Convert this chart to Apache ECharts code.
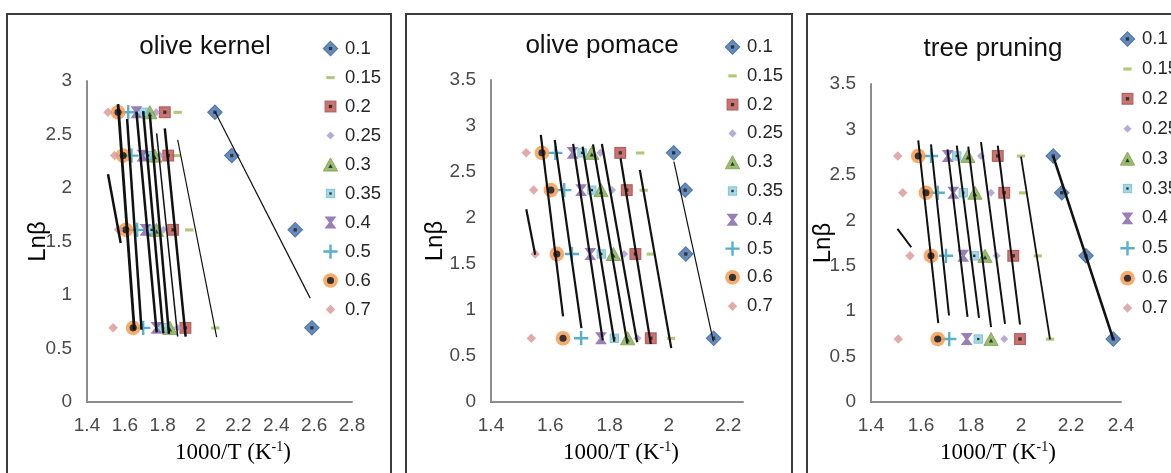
<!DOCTYPE html>
<html>
<head>
<meta charset="utf-8">
<script src="https://cdn.jsdelivr.net/npm/echarts@6/dist/echarts.min.js"></script>
<style>
  html, body { margin: 0; padding: 0; background: #fff; overflow: hidden; }
  body { width: 1171px; height: 473px; position: relative; }
  .panel { position: absolute; top: 13px; height: 480px; border: 2px solid #3c3c3c; box-sizing: border-box; }
  #chart { position: absolute; left: 0; top: 0; width: 1171px; height: 473px; }
</style>
</head>
<body>
<div class="panel" style="left:6px;width:386px"></div>
<div class="panel" style="left:405px;width:388px"></div>
<div class="panel" style="left:806px;width:380px"></div>
<div id="chart"></div>
<script>
// ln(beta) for heating rates 2, 5, 10, 15 K/min
const lnBeta = [2.708, 2.303, 1.609, 0.693]
const conversions = ['0.1', '0.15', '0.2', '0.25', '0.3', '0.35', '0.4', '0.5', '0.6', '0.7']

// 1000/T per conversion, one value per heating rate (same order as lnBeta)
const kernelX = [
  [2.076, 2.165, 2.500, 2.588],
  [1.879, 1.873, 1.940, 2.078],
  [1.811, 1.829, 1.855, 1.920],
  [1.765, 1.785, 1.803, 1.878],
  [1.732, 1.758, 1.767, 1.838],
  [1.697, 1.723, 1.741, 1.802],
  [1.661, 1.693, 1.709, 1.767],
  [1.618, 1.635, 1.665, 1.697],
  [1.564, 1.591, 1.605, 1.644],
  [1.511, 1.546, 1.567, 1.538]
]
const pomaceX = [
  [2.016, 2.055, 2.057, 2.151],
  [1.903, 1.915, 1.939, 2.007],
  [1.836, 1.858, 1.887, 1.939],
  [1.769, 1.808, 1.849, 1.894],
  [1.740, 1.771, 1.813, 1.861],
  [1.707, 1.740, 1.772, 1.816],
  [1.675, 1.704, 1.735, 1.771],
  [1.617, 1.647, 1.673, 1.704],
  [1.572, 1.602, 1.622, 1.643],
  [1.519, 1.544, 1.549, 1.536]
]
const pruningX = [
  [2.129, 2.163, 2.260, 2.369],
  [2.000, 2.009, 2.067, 2.116],
  [1.907, 1.933, 1.969, 1.996],
  [1.840, 1.880, 1.903, 1.933],
  [1.787, 1.816, 1.856, 1.880],
  [1.743, 1.769, 1.813, 1.829],
  [1.707, 1.729, 1.769, 1.783],
  [1.640, 1.667, 1.700, 1.713],
  [1.589, 1.620, 1.640, 1.667],
  [1.507, 1.527, 1.556, 1.509]
]

// trend lines: [x1, y1, x2, y2]
const kernelTrend = [
  [2.076, 2.714, 2.579, 0.971],
  [1.879, 2.451, 2.085, 0.607],
  [1.811, 2.558, 1.921, 0.612],
  [1.768, 2.511, 1.879, 0.612],
  [1.732, 2.682, 1.833, 0.637],
  [1.697, 2.714, 1.803, 0.641],
  [1.661, 2.714, 1.768, 0.650],
  [1.612, 2.645, 1.688, 0.675],
  [1.564, 2.783, 1.650, 0.675],
  [1.511, 2.129, 1.578, 1.486]
]
const pomaceTrend = [
  [2.017, 2.613, 2.150, 0.660],
  [1.902, 2.523, 2.008, 0.586],
  [1.837, 2.649, 1.939, 0.630],
  [1.774, 2.805, 1.893, 0.650],
  [1.744, 2.800, 1.860, 0.635],
  [1.709, 2.776, 1.816, 0.655],
  [1.677, 2.805, 1.777, 0.670],
  [1.615, 2.848, 1.705, 0.803],
  [1.568, 2.903, 1.643, 0.930],
  [1.519, 2.096, 1.549, 1.600]
]
const pruningTrend = [
  [2.129, 2.703, 2.369, 0.689],
  [2.000, 2.700, 2.116, 0.689],
  [1.907, 2.821, 1.996, 0.853],
  [1.840, 2.860, 1.936, 0.861],
  [1.789, 2.810, 1.880, 0.824],
  [1.743, 2.821, 1.832, 0.927],
  [1.706, 2.780, 1.786, 0.938],
  [1.640, 2.836, 1.712, 0.952],
  [1.589, 2.880, 1.669, 0.868],
  [1.506, 1.905, 1.561, 1.703]
]

const kernelXRange = [1.4, 2.8]
const pomaceXRange = [1.4, 2.25]
const pruningXRange = [1.4, 2.4]
const kernelYRange = [0, 3]
const pomaceYRange = [0, 3.5]
const pruningYRange = [0, 3.5]

// excel-ish markers, drawn as small svg images
const svgIcon = body => 'image://data:image/svg+xml;charset=utf-8,' + encodeURIComponent(
  '<svg xmlns="http://www.w3.org/2000/svg" width="16" height="16" viewBox="0 0 16 16">' + body + '</svg>')
const dot = '<rect x="6.6" y="6.6" width="2.8" height="2.8" fill="#000"/>'
const markerIcons = [
  svgIcon('<path d="M8 2L14 8L8 14L2 8Z" fill="#3D71B3" stroke="#2B5790" stroke-width="1"/>' + dot),
  svgIcon('<rect x="4.5" y="6.8" width="7" height="2.6" fill="#9BBB59"/>'),
  svgIcon('<rect x="3.5" y="3.5" width="9" height="9" fill="#C0504D" stroke="#9A3B38" stroke-width="1"/>' + dot),
  svgIcon('<path d="M8 4.6L11.4 8L8 11.4L4.6 8Z" fill="#A897CE"/>'),
  svgIcon('<path d="M8 2.5L14 13.5L2 13.5Z" fill="#7FAE46" stroke="#6A8F3A" stroke-width="0.8"/><path d="M8 7.6L9.8 11L6.2 11Z" fill="#000"/>'),
  svgIcon('<rect x="4.5" y="4.5" width="7" height="7" fill="#8FCFE0" stroke="#5DB5CF" stroke-width="0.8"/><rect x="7" y="7" width="2" height="2" fill="#000"/>'),
  svgIcon('<path d="M3 3L13 3L9.2 8L13 13L3 13L6.8 8Z" fill="#7F5FA8"/>'),
  svgIcon('<path d="M7 2h2v5h5v2h-5v5h-2v-5h-5v-2h5z" fill="#2F9BBE"/>'),
  svgIcon('<circle cx="8" cy="8" r="6.2" fill="#F79646"/><circle cx="8" cy="8" r="3" fill="#000"/>'),
  svgIcon('<path d="M8 4L12 8L8 12L4 8Z" fill="#D99694"/>')
]

const panels = [
  {
    title: 'olive kernel', titleAt: [205, 47], xs: kernelX, trends: kernelTrend,
    xRange: kernelXRange, yRange: kernelYRange,
    grid: { left: 87, top: 81, width: 265, height: 321 },
    widths: [1.2, 1.2, 2.5, 1.5, 2.5, 2.5, 2.5, 2.5, 2.8, 2.5],
    legend: { left: 321, top: 39, gap: 10 }, yNameGap: 37, xNamePad: 27
  },
  {
    title: 'olive pomace', titleAt: [602, 46], xs: pomaceX, trends: pomaceTrend,
    xRange: pomaceXRange, yRange: pomaceYRange,
    grid: { left: 491, top: 80, width: 252, height: 322 },
    widths: [1.2, 2.2, 2.2, 2.2, 2.2, 2.2, 2.2, 2.2, 2.2, 2.2],
    legend: { left: 723, top: 37.5, gap: 9.8 }, yNameGap: 44, xNamePad: 8
  },
  {
    title: 'tree pruning', titleAt: [993, 49], xs: pruningX, trends: pruningTrend,
    xRange: pruningXRange, yRange: pruningYRange,
    grid: { left: 871, top: 84, width: 250, height: 318 },
    widths: [2.6, 1.8, 2, 2, 2, 2, 2, 2, 2, 2],
    legend: { left: 1118, top: 29.5, gap: 10.9 }, yNameGap: 36, xNamePad: 4
  }
]

const labelStyle = { fontSize: 19, fontFamily: 'Liberation Sans', color: '#4a4a4a' }
const axisLineStyle = { show: true, lineStyle: { color: '#8c8c8c', width: 2 } }

const series = []
panels.forEach((p, pi) => {
  conversions.forEach((c, ci) => {
    series.push({
      name: c,
      type: 'scatter',
      xAxisIndex: pi,
      yAxisIndex: pi,
      symbol: markerIcons[ci],
      symbolSize: 19,
      z: 2,
      data: p.xs[ci].map((x, k) => [x, lnBeta[k]])
    })
    const t = p.trends[ci]
    series.push({
      name: 'trend ' + c,
      type: 'line',
      xAxisIndex: pi,
      yAxisIndex: pi,
      symbol: 'none',
      silent: true,
      z: 3,
      lineStyle: { color: '#111', width: p.widths[ci] },
      data: [[t[0], t[1]], [t[2], t[3]]]
    })
  })
})

const chart = echarts.init(document.getElementById('chart'))
chart.setOption({
  animation: false,
  backgroundColor: 'transparent',
  grid: panels.map(p => Object.assign({ containLabel: false }, p.grid)),
  xAxis: panels.map((p, pi) => ({
    type: 'value',
    gridIndex: pi,
    min: p.xRange[0],
    max: p.xRange[1],
    interval: 0.2,
    axisLine: axisLineStyle,
    axisTick: { show: false },
    splitLine: { show: false },
    axisLabel: Object.assign({ margin: 14, showMaxLabel: pi !== 1 }, labelStyle),
    name: '{n|1000/T (K}{s|-1}{n|)}',
    nameLocation: 'middle',
    nameGap: 38,
    nameMoveOverlap: false,
    nameTextStyle: {
      padding: [0, 0, 0, p.xNamePad],
      rich: {
        n: { fontSize: 23, fontFamily: 'Liberation Serif', color: '#000', lineHeight: 26 },
        s: { fontSize: 14, fontFamily: 'Liberation Serif', color: '#000', lineHeight: 14, verticalAlign: 'top' }
      }
    }
  })),
  yAxis: panels.map((p, pi) => ({
    type: 'value',
    gridIndex: pi,
    min: p.yRange[0],
    max: p.yRange[1],
    interval: 0.5,
    axisLine: axisLineStyle,
    axisTick: { show: false },
    splitLine: { show: false },
    axisLabel: Object.assign({ margin: 15 }, labelStyle),
    name: 'Lnβ',
    nameLocation: 'middle',
    nameGap: p.yNameGap,
    nameMoveOverlap: false,
    nameTextStyle: { fontSize: 24, fontFamily: 'Liberation Sans', color: '#000' }
  })),
  legend: panels.map(p => ({
    orient: 'vertical',
    left: p.legend.left,
    top: p.legend.top,
    itemWidth: 19,
    itemHeight: 19,
    itemGap: p.legend.gap,
    selectedMode: false,
    padding: 0,
    data: conversions.map((c, i) => ({ name: c, icon: markerIcons[i] })),
    textStyle: { fontSize: 18.5, fontFamily: 'Liberation Sans', color: '#262626', lineHeight: 16 }
  })),
  graphic: panels.map(p => ({
    type: 'text',
    x: p.titleAt[0],
    y: p.titleAt[1],
    style: {
      text: p.title,
      fontSize: 26,
      fontFamily: 'Liberation Sans',
      fill: '#111',
      align: 'center',
      verticalAlign: 'middle',
      textAlign: 'center',
      textVerticalAlign: 'middle'
    }
  })),
  series: series
})
</script>
</body>
</html>
